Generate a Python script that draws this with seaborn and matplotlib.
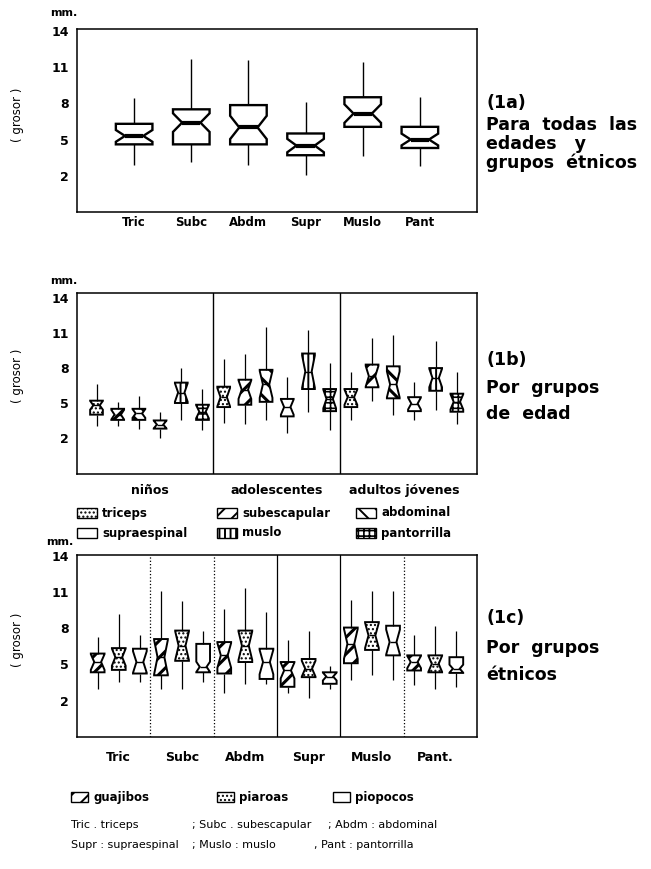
import numpy as np
import pandas as pd
import matplotlib
matplotlib.use("Agg")
import matplotlib.pyplot as plt
from matplotlib.patches import Rectangle
from matplotlib.ticker import MultipleLocator
import seaborn as sns

# ------------------------------------------------------------------ data
sites_short = ["Tric", "Subc", "Abdm", "Supr", "Muslo", "Pant"]
sites_1c_labels = ["Tric", "Subc", "Abdm", "Supr", "Muslo", "Pant."]
sites_long = ["triceps", "subescapular", "abdominal", "supraespinal", "muslo", "pantorrilla"]
age_groups = ["niños", "adolescentes", "adultos jóvenes"]
ethnic_groups = ["guajibos", "piaroas", "piopocos"]
major_y = [2, 5, 8, 11, 14]

# (1a) all ages and ethnic groups: whisker low, Q1, median, Q3, whisker high
a_lo = [2.9, 3.1, 2.9, 2.1, 3.6, 2.8]
a_q1 = [4.6, 4.6, 4.6, 3.7, 6.05, 4.3]
a_med = [5.3, 6.4, 6.0, 4.5, 7.15, 5.0]
a_q3 = [6.3, 7.5, 7.85, 5.5, 8.5, 6.05]
a_hi = [8.4, 11.7, 11.6, 8.1, 11.4, 8.5]

# (1b) rows: age groups, columns: skinfold sites (sites_long order)
b_lo = [[3.05, 3.05, 2.8, 2.0, 3.5, 2.7],
        [3.3, 3.2, 3.5, 2.45, 4.25, 2.7],
        [3.5, 5.2, 4.0, 3.55, 4.4, 3.2]]
b_q1 = [[4.0, 3.55, 3.55, 2.8, 5.0, 3.55],
        [4.65, 4.85, 5.1, 3.85, 6.2, 4.3],
        [4.65, 6.35, 5.4, 4.3, 6.05, 4.25]]
b_med = [[4.8, 4.0, 4.1, 3.15, 5.9, 4.25],
         [5.5, 6.15, 6.6, 4.65, 7.7, 5.35],
         [5.5, 7.3, 6.6, 4.95, 7.15, 5.1]]
b_q3 = [[5.2, 4.5, 4.5, 3.5, 6.75, 4.85],
        [6.4, 7.0, 7.85, 5.35, 9.25, 6.2],
        [6.2, 8.3, 8.15, 5.5, 8.0, 5.8]]
b_hi = [[6.6, 5.1, 5.6, 4.25, 8.0, 6.2],
        [8.8, 9.25, 11.5, 7.2, 11.25, 8.4],
        [7.7, 10.6, 10.85, 6.8, 10.35, 7.65]]

# (1c) rows: skinfold sites, columns: ethnic groups
c_lo = [[3.0, 3.55, 3.55], [3.0, 3.0, 3.55], [2.6, 3.4, 3.35],
        [2.6, 2.2, 3.0], [3.7, 4.1, 3.7], [3.3, 3.0, 3.15]]
c_q1 = [[4.35, 4.55, 4.25], [4.1, 5.3, 4.35], [4.25, 5.2, 3.8],
        [3.15, 3.95, 3.4], [5.1, 6.2, 5.75], [4.5, 4.35, 4.3]]
c_med = [[5.2, 5.6, 5.2], [5.6, 6.55, 4.8], [5.75, 6.55, 5.2],
         [4.5, 4.65, 4.0], [6.7, 7.4, 6.85], [5.2, 5.05, 4.65]]
c_q3 = [[5.9, 6.35, 6.3], [7.1, 7.8, 6.7], [6.85, 7.8, 6.3],
        [5.2, 5.45, 4.35], [8.05, 8.5, 8.2], [5.75, 5.75, 5.6]]
c_hi = [[7.3, 9.15, 7.4], [11.1, 10.25, 7.8], [9.6, 11.35, 9.3],
        [7.0, 7.8, 4.85], [10.3, 11.1, 11.1], [7.4, 8.2, 7.8]]


def expand(lo, q1, med, q3, hi, frac):
    """Sample whose quartiles / extremes equal the read summary; its size
    sets the notch depth (median +/- 1.57 IQR / sqrt(n))."""
    half = frac * min(med - q1, q3 - med)
    n = int(np.ceil((1.57 * (q3 - q1) / half) ** 2)) if half > 0 else 3001
    n = int(np.clip(n, 9, 3001))
    p2 = 0.5 * (n - 1)
    out = []
    for i in range(n):
        if i == 0:
            out.append(lo)
        elif i == n - 1:
            out.append(hi)
        elif i < np.floor(p2):
            out.append(q1)
        elif i <= np.ceil(p2):
            out.append(med)
        else:
            out.append(q3)
    return out


rows = []
for i, s in enumerate(sites_short):
    for v in expand(a_lo[i], a_q1[i], a_med[i], a_q3[i], a_hi[i], 0.7):
        rows.append({"sitio": s, "grosor": v})
df_a = pd.DataFrame(rows)

rows = []
for i, g in enumerate(age_groups):
    for k, s in enumerate(sites_long):
        for v in expand(b_lo[i][k], b_q1[i][k], b_med[i][k], b_q3[i][k], b_hi[i][k], 0.95):
            rows.append({"edad": g, "pliegue": s, "grosor": v})
df_b = pd.DataFrame(rows)

rows = []
for j, s in enumerate(sites_1c_labels):
    for e, eg in enumerate(ethnic_groups):
        for v in expand(c_lo[j][e], c_q1[j][e], c_med[j][e], c_q3[j][e], c_hi[j][e], 0.95):
            rows.append({"sitio": s, "etnia": eg, "grosor": v})
df_c = pd.DataFrame(rows)

# ------------------------------------------------------------------ style
sns.set_theme(style="white")
plt.rcParams["font.family"] = ["DejaVu Sans"]
plt.rcParams["font.weight"] = "bold"
plt.rcParams["text.color"] = "black"
plt.rcParams["axes.labelcolor"] = "black"
plt.rcParams["xtick.color"] = "black"
plt.rcParams["ytick.color"] = "black"
plt.rcParams["hatch.linewidth"] = 1.6
plt.rcParams["hatch.color"] = "black"

W, H = 651, 869


def fx(x):
    return x / W


def fy(y):
    return 1 - y / H


fig = plt.figure(figsize=(6.51, 8.69), dpi=100)
fig.patch.set_facecolor("white")
ax_a = fig.add_axes([fx(77), fy(212), 400 / W, 183 / H])
ax_b = fig.add_axes([fx(77), fy(474), 400 / W, 181 / H])
ax_c = fig.add_axes([fx(77), fy(737), 400 / W, 182 / H])

common = dict(notch=True, whis=(0, 100), showcaps=False, fill=True,
              linecolor="black", fliersize=0, saturation=1, legend=False)

sns.boxplot(data=df_a, x="sitio", y="grosor", order=sites_short, color="white",
            width=0.64, linewidth=1.7, medianprops=dict(linewidth=3.0),
            whiskerprops=dict(linewidth=1.0), ax=ax_a, **common)

sns.boxplot(data=df_b, x="edad", y="grosor", hue="pliegue", order=age_groups,
            hue_order=sites_long, palette={s: "white" for s in sites_long},
            width=1.0, gap=0.4, dodge=True, linewidth=1.4,
            medianprops=dict(linewidth=1.0), whiskerprops=dict(linewidth=0.9),
            ax=ax_b, **common)

sns.boxplot(data=df_c, x="sitio", y="grosor", hue="etnia", order=sites_1c_labels,
            hue_order=ethnic_groups, palette={e: "white" for e in ethnic_groups},
            width=1.0, gap=0.35, dodge=True, linewidth=1.4,
            medianprops=dict(linewidth=1.0), whiskerprops=dict(linewidth=0.9),
            ax=ax_c, **common)

hatch_b = {"triceps": "....", "subescapular": "//", "abdominal": "\\\\",
           "supraespinal": "", "muslo": "|||", "pantorrilla": "+++"}
hatch_c = {"guajibos": "//", "piaroas": "....", "piopocos": ""}
hlw = {"....": 1.0, "//": 2.2, "\\\\": 2.2, "|||": 1.4, "+++": 1.2, "": 1.0}


def apply_hatches(ax, levels, hatches):
    nh = len(levels)
    for p in ax.patches:
        v = p.get_path().vertices
        cx = (v[:, 0].min() + v[:, 0].max()) / 2
        g = round(cx)
        k = int(round((cx - g + 0.5) * nh - 0.5))
        h = hatches[levels[k]]
        if h:
            p.set_hatch(h)
            if hasattr(p, "set_hatch_linewidth"):
                p.set_hatch_linewidth(hlw[h])


apply_hatches(ax_b, sites_long, hatch_b)
apply_hatches(ax_c, ethnic_groups, hatch_c)

# ------------------------------------------------------------------ axes
for ax, ylim in ((ax_a, (-1, 14.15)), (ax_b, (-1.1, 14.45)), (ax_c, (-1, 14.05))):
    ax.set_xlabel("")
    ax.set_ylabel("")
    ax.set_ylim(*ylim)
    ax.set_yticks(major_y)
    ax.set_yticklabels([str(v) for v in major_y])
    ax.yaxis.set_minor_locator(MultipleLocator(1))
    ax.tick_params(axis="y", which="major", direction="in", length=9, width=1.0,
                   labelsize=9, pad=6, colors="black")
    ax.tick_params(axis="y", which="minor", direction="in", length=4.5, width=0.9,
                   colors="black")
    ax.grid(False)
    for sp in ax.spines.values():
        sp.set_visible(True)
        sp.set_color("black")
        sp.set_linewidth(1.1)

ax_a.set_xlim(-1, 6)
ax_a.tick_params(axis="x", which="major", direction="in", length=6, width=1.0,
                 labelsize=8.5, pad=3, colors="black")

ax_b.set_xlim(-0.57, 2.575)
ax_b.set_xticks(range(len(age_groups)))
ax_b.set_xticklabels(age_groups)
ax_b.set_xticks([g + (k + 0.5) / 6 - 0.5 for g in range(3) for k in range(6)], minor=True)
ax_b.tick_params(axis="x", which="major", length=0, labelsize=9, pad=7, colors="black")
ax_b.tick_params(axis="x", which="minor", direction="in", length=6, width=1.0, colors="black")
for xv in (0.5, 1.5):
    ax_b.axvline(xv, color="black", lw=1.0)

ax_c.set_xlim(-0.66, 5.66)
ax_c.set_xticks(range(len(sites_1c_labels)))
ax_c.set_xticklabels(sites_1c_labels)
ax_c.set_xticks([g + (k + 0.5) / 3 - 0.5 for g in range(6) for k in range(3)], minor=True)
ax_c.tick_params(axis="x", which="major", length=0, labelsize=9, pad=10, colors="black")
ax_c.tick_params(axis="x", which="minor", direction="in", length=6, width=1.0, colors="black")
for xv, ls in ((0.5, ":"), (1.5, ":"), (2.5, "-"), (3.5, "-"), (4.5, ":")):
    ax_c.axvline(xv, color="black", lw=0.9, ls=ls)

# ------------------------------------------------------------------ texts
for (mx, my), gy in (((50, 13), 115), ((50, 281), 376), ((46, 542), 640)):
    fig.text(fx(mx), fy(my), "mm.", fontsize=8, ha="left", va="center")
    fig.text(fx(17), fy(gy), "( grosor )", fontsize=8.5, fontweight="normal",
             rotation=90, ha="center", va="center")

side = [
    ("(1a)", 103), ("Para  todas  las", 125), ("edades   y", 144), ("grupos  étnicos", 163),
    ("(1b)", 360), ("Por  grupos", 388), ("de  edad", 414),
    ("(1c)", 618), ("Por  grupos", 648), ("étnicos", 675),
]
for txt, yy in side:
    fig.text(fx(486), fy(yy), txt, fontsize=12.5, ha="left", va="center")


def legend_item(x, y, label, hatch, w=20, h=10, size=8.5):
    r = Rectangle((fx(x), fy(y + h / 2)), w / W, h / H, transform=fig.transFigure,
                  facecolor="white", edgecolor="black", lw=1.0, hatch=hatch or None)
    if hatch and hasattr(r, "set_hatch_linewidth"):
        r.set_hatch_linewidth(min(hlw[hatch], 1.4))
    fig.add_artist(r)
    fig.text(fx(x + w + 5), fy(y), label, fontsize=size, ha="left", va="center")


legend_b_x = [77, 217, 356]
for idx, s in enumerate(sites_long):
    legend_item(legend_b_x[idx % 3], 513 + 20 * (idx // 3), s, hatch_b[s])

legend_c_x = [71, 217, 333]
for idx, e in enumerate(ethnic_groups):
    legend_item(legend_c_x[idx], 797, e, hatch_c[e], w=17)

foot = [
    (71, 825, "Tric . triceps"), (192, 825, "; Subc . subescapular"), (328, 825, "; Abdm : abdominal"),
    (71, 845, "Supr : supraespinal"), (192, 845, "; Muslo : muslo"), (314, 845, ", Pant : pantorrilla"),
]
for x, y, t in foot:
    fig.text(fx(x), fy(y), t, fontsize=8, fontweight="normal", ha="left", va="center")

fig.savefig("out.png", dpi=100, facecolor="white")
